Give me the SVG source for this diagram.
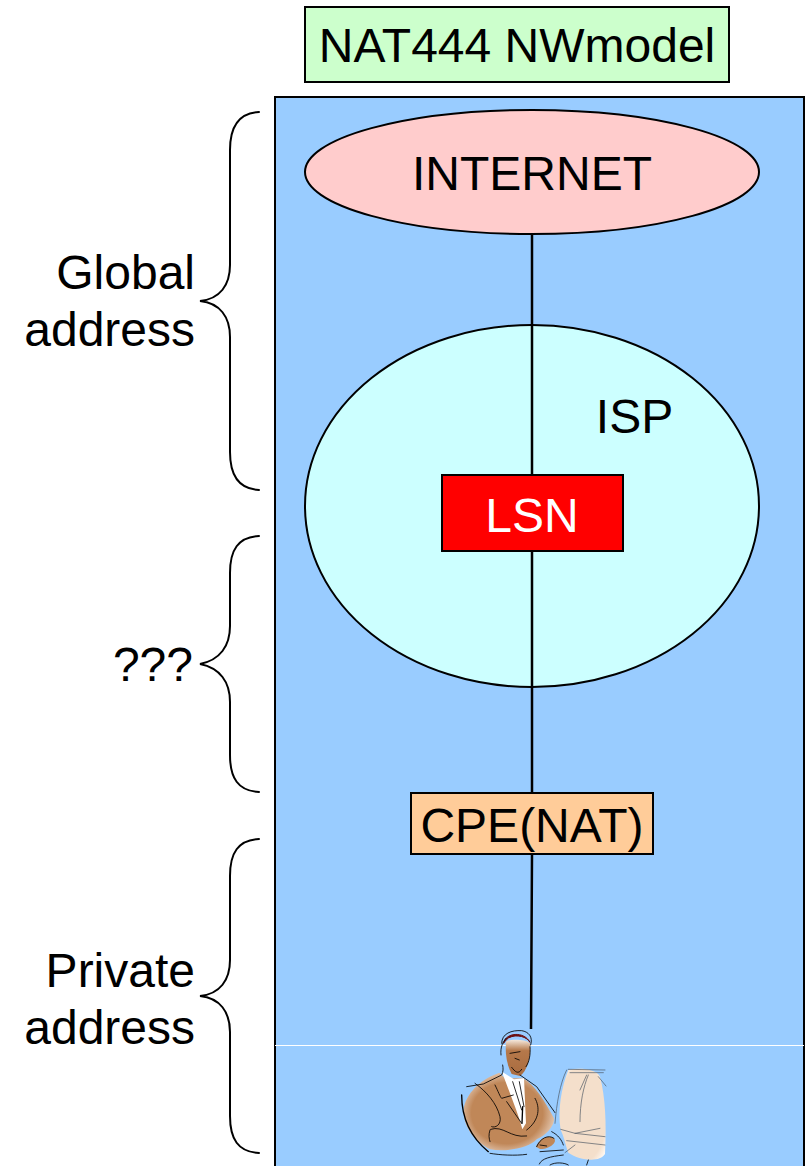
<svg xmlns="http://www.w3.org/2000/svg" width="807" height="1166" viewBox="0 0 807 1166">
<style>
text{font-family:"Liberation Sans",Arial,sans-serif;font-size:48px;fill:#000;text-anchor:middle}
.s{stroke:#000;stroke-width:2}
.b{fill:none;stroke:#000;stroke-width:2;stroke-linecap:round}
.c{fill:none;stroke:#000;stroke-width:4;stroke-linecap:round;stroke-linejoin:round}
.t{fill:none;stroke:#000;stroke-width:2.500;stroke-linecap:round}
.g{fill:none;stroke:#4a5560;stroke-width:2;stroke-linecap:round}
</style>
<defs>
<radialGradient id="suit" cx="0.48" cy="0.52" r="0.58"><stop offset="0.68" stop-color="#c08758"/><stop offset="0.9" stop-color="#dfbfa5"/><stop offset="1" stop-color="#fbf4ee"/></radialGradient>
<linearGradient id="face" x1="0" y1="0" x2="0" y2="1"><stop offset="0" stop-color="#f5e8dc"/><stop offset="0.3" stop-color="#b5784a"/><stop offset="1" stop-color="#a96c40"/></linearGradient>
<radialGradient id="pc" cx="0.5" cy="0.5" r="0.65"><stop offset="0.8" stop-color="#f4dfcb"/><stop offset="1" stop-color="#fff9f3"/></radialGradient>
</defs>
<g id="title"><rect x="305" y="7" width="424" height="75" fill="#ccffcc" class="s"/><text x="517" y="62">NAT444 NWmodel</text></g>
<g id="network"><rect x="275" y="97" width="529" height="1080" fill="#99ccff" class="s"/></g>
<line x1="275" y1="1045.500" x2="804" y2="1045.500" stroke="#fff" stroke-width="1"/>
<g id="internet"><ellipse cx="532" cy="172" rx="227" ry="62" fill="#ffcccc" class="s"/><text x="532" y="190">INTERNET</text></g>
<g id="isp"><ellipse cx="532" cy="506" rx="227" ry="181" fill="#ccffff" class="s"/><text x="634.500" y="433">ISP</text></g>
<g id="connectors"><path d="M532 234V475M532 551V793M532 854L531 1029" fill="none" stroke="#000" stroke-width="2.500"/></g>
<g id="lsn"><rect x="442" y="475" width="181" height="76" fill="#ff0000" class="s"/><text x="532" y="532" style="fill:#fff">LSN</text></g>
<g id="cpe"><rect x="411" y="793" width="242" height="61" fill="#ffcc99" class="s"/><text x="532" y="842">CPE(NAT)</text></g>
<g id="brace-global"><path class="b" d="M259 112C238 113 230 127 230 150V265C230 285 220 299 200 301C220 303 230 317 230 337V452C230 475 238 489 259 490"/></g>
<g id="label-global"><text x="195" y="289" style="text-anchor:end">Global</text><text x="195" y="346" style="text-anchor:end">address</text></g>
<g id="brace-mid"><path class="b" d="M259 536C238 537 230 550 230 573V626C230 646 220 660 200 664C220 668 230 682 230 702V755C230 778 238 791 259 792"/></g>
<g id="label-mid"><text x="193" y="681" style="text-anchor:end">???</text></g>
<g id="brace-private"><path class="b" d="M259 839C238 840 230 853 230 876V960C230 980 220 994 200 996C220 998 230 1012 230 1032V1116C230 1139 238 1152 259 1153"/></g>
<g id="label-private"><text x="195" y="987" style="text-anchor:end">Private</text><text x="195" y="1044" style="text-anchor:end">address</text></g>
<g id="user" transform="translate(440 1010) scale(.33333)">
<path d="M72 290C85 240 130 205 178 188L195 205L250 205C285 225 315 275 342 325C345 345 320 375 290 388C270 412 200 428 150 418C100 392 65 345 72 290Z" fill="url(#suit)"/>
<path d="M198 95C205 88 255 86 270 100C274 140 262 182 240 198L215 192C200 165 195 130 198 95Z" fill="url(#face)"/>
<path d="M186 185L222 208L252 205L258 340L247 358C235 310 205 240 186 185Z" fill="#fff"/>
<path d="M385 180C420 172 470 178 480 200C496 260 500 340 495 432C480 458 420 452 385 428C375 400 372 380 362 360C352 300 365 230 385 180Z" fill="url(#pc)"/>
<path d="M288 410C298 385 325 372 342 385C355 400 320 420 300 417Z" fill="#c08758"/>
<path d="M191 100C195 68 252 62 270 97C262 82 232 70 205 84C198 90 193 96 191 100Z" fill="#6b0f0f" stroke="#6b0f0f" stroke-width="3"/>
<path class="t" d="M185 100C185 70 215 60 245 62C265 65 280 80 272 105M183 135C180 110 190 95 198 85M270 110C272 135 268 155 258 170M210 130L240 125M225 145L238 150M215 172C225 185 235 195 245 178M188 165C190 175 190 185 185 195L130 222L80 230M240 195L290 230L345 308M105 220C140 245 170 280 180 320C185 345 165 355 155 350M165 225C175 245 180 260 185 265L220 255M200 275L245 340M285 265C300 290 300 330 260 360M152 358C190 345 210 385 260 378M150 360C145 375 147 385 150 395M290 410C300 385 325 372 342 385M335 365C355 375 365 390 370 405M300 405L320 408M150 430C180 435 225 438 260 433M300 425L370 420M298 462C305 445 330 440 370 435M330 465C345 455 375 458 385 465M440 465L445 450M218 215L245 300M238 215L252 290"/>
<path class="c" d="M65 255C65 320 90 380 145 425M248 290L246 340"/>
<path class="g" d="M385 178L495 180M390 188L490 188M380 180C360 220 350 280 345 340M445 195C430 230 420 280 420 335M475 200L498 228M362 358L405 370L480 355M405 370L495 380M380 392L495 405M375 428L405 405M440 195L420 240"/>
</g>
</svg>
